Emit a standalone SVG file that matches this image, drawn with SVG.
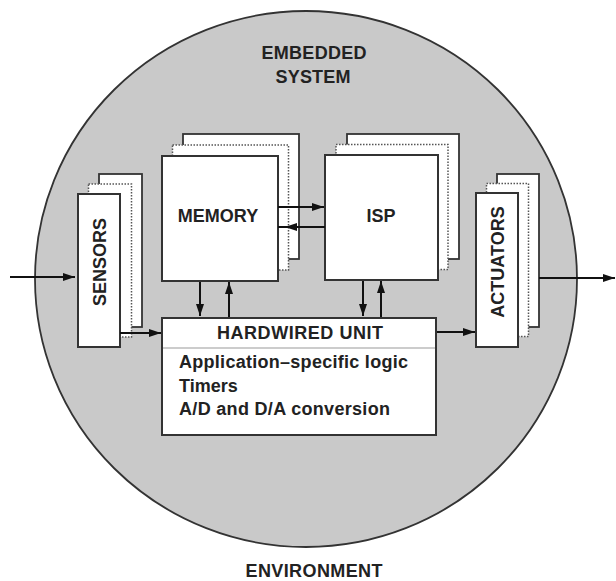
<svg xmlns="http://www.w3.org/2000/svg" width="616" height="581" viewBox="0 0 616 581">
<style>
.t{font-family:"Liberation Sans",Arial,sans-serif;font-weight:bold;fill:#222;font-size:18px}
.front{fill:#fff;stroke:#333;stroke-width:2}
.mid{fill:#fff;stroke:#555;stroke-width:1.5;stroke-dasharray:1.5 1.5}
.back{fill:#fff;stroke:#333;stroke-width:1.8}
.ln{stroke:#111;stroke-width:2;fill:none}
</style>
<defs>
<marker id="ah" viewBox="0 0 12 8" refX="12" refY="4" markerWidth="12" markerHeight="8" markerUnits="userSpaceOnUse" orient="auto">
<path d="M0,0 L12,4 L0,8 Z" fill="#111"/>
</marker>
</defs>
<rect width="616" height="581" fill="#fff"/>
<g id="environment">
<ellipse cx="306" cy="279" rx="271" ry="268" fill="#c9c9c9" stroke="#333" stroke-width="1.8"/>
<text class="t" x="314" y="59" text-anchor="middle" textLength="105">EMBEDDED</text>
<text class="t" x="313" y="83" text-anchor="middle" textLength="75">SYSTEM</text>
<text class="t" x="314" y="577" text-anchor="middle" textLength="137">ENVIRONMENT</text>
</g>
<g id="memory">
<rect class="back" x="183" y="134" width="116" height="125"/>
<rect class="mid" x="172.5" y="145" width="116" height="125"/>
<rect class="front" x="162" y="156" width="116" height="125"/>
<text class="t" x="218" y="222" text-anchor="middle">MEMORY</text>
</g>
<g id="isp">
<rect class="back" x="347" y="134" width="112" height="125"/>
<rect class="mid" x="336" y="144.5" width="112" height="125"/>
<rect class="front" x="325" y="155" width="113" height="125"/>
<text class="t" x="381" y="222" text-anchor="middle">ISP</text>
</g>
<g id="sensors">
<rect class="back" x="99" y="174" width="43" height="153"/>
<rect class="mid" x="88.5" y="184" width="43" height="153"/>
<rect class="front" x="78" y="194" width="42" height="153"/>
<text class="t" transform="translate(106,262) rotate(-90)" text-anchor="middle">SENSORS</text>
</g>
<g id="actuators">
<rect class="back" x="497" y="174" width="42" height="153"/>
<rect class="mid" x="486.5" y="183.5" width="42" height="153"/>
<rect class="front" x="476" y="193" width="42" height="154"/>
<text class="t" transform="translate(504,262) rotate(-90)" text-anchor="middle">ACTUATORS</text>
</g>
<g id="hardwired">
<rect class="front" x="162" y="318" width="274" height="117"/>
<line x1="163" y1="348" x2="435" y2="348" stroke="#999" stroke-width="1"/>
<text class="t" x="300" y="339" text-anchor="middle" textLength="166">HARDWIRED  UNIT</text>
<text class="t" x="179" y="368" textLength="229">Application–specific logic</text>
<text class="t" x="179" y="392">Timers</text>
<text class="t" x="179" y="415" textLength="211">A/D and D/A conversion</text>
</g>
<g id="connectors">
<line class="ln" x1="10" y1="277" x2="75" y2="277" marker-end="url(#ah)"/>
<line class="ln" x1="120" y1="333" x2="161" y2="333" marker-end="url(#ah)"/>
<line class="ln" x1="437" y1="332" x2="475" y2="332" marker-end="url(#ah)"/>
<line class="ln" x1="539" y1="278" x2="615" y2="278" marker-end="url(#ah)"/>
<line class="ln" x1="278" y1="207" x2="324" y2="207" marker-end="url(#ah)"/>
<line class="ln" x1="325" y1="227" x2="285" y2="227" marker-end="url(#ah)"/>
<line class="ln" x1="278" y1="227" x2="290" y2="227"/>
<line class="ln" x1="200" y1="282" x2="200" y2="316" marker-end="url(#ah)"/>
<line class="ln" x1="229" y1="317" x2="229" y2="282" marker-end="url(#ah)"/>
<line class="ln" x1="363" y1="281" x2="363" y2="316" marker-end="url(#ah)"/>
<line class="ln" x1="381" y1="317" x2="381" y2="281" marker-end="url(#ah)"/>
</g>
</svg>
